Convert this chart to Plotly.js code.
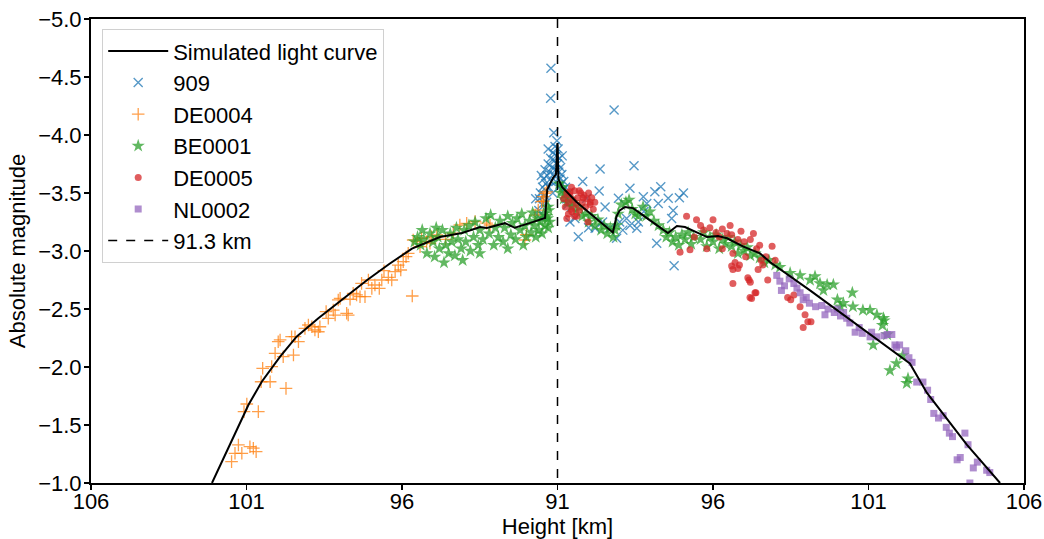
<!DOCTYPE html>
<html>
<head>
<meta charset="utf-8">
<script src="https://cdn.plot.ly/plotly-3.0.1.min.js"></script>
<style>html,body{margin:0;padding:0;background:#fff;}#chart{width:1044px;height:539px;}</style>
</head>
<body>
<div id="chart"></div>
<script>
// Axis: signed position along the trajectory (left branch = before peak, right = after)
const tickPositions = [-15, -10, -5, 0, 5, 10, 15];
const tickLabels = ['106', '101', '96', '91', '96', '101', '106'];
const peakPosition = [0, 0];
const peakSpan = [-5, -1];

// Simulated light curve
const simX = [-11.11,-10.6,-10.1,-9.94,-9.51,-8.92,-8.39,-7.69,-6.9,-6.12,-5.4,-4.68,-3.78,-3.07,-2.49,-2.27,-1.69,-1.37,-0.9,-0.40,-0.33,-0.14,-0.05,0.0,0.03,0.15,0.62,1.2,1.78,1.9,2.0,2.17,2.43,3.0,3.55,3.84,4.1,4.81,5.16,5.45,5.96,6.51,6.83,8.12,9.63,10.59,11.33,11.88,13.16,14.23];
const simY = [-1.0,-1.30,-1.58,-1.672,-1.873,-2.089,-2.261,-2.42,-2.59,-2.75,-2.89,-3.02,-3.12,-3.155,-3.207,-3.198,-3.24,-3.20,-3.24,-3.284,-3.53,-3.63,-3.66,-3.93,-3.62,-3.55,-3.42,-3.29,-3.16,-3.30,-3.35,-3.38,-3.37,-3.26,-3.155,-3.215,-3.207,-3.12,-3.13,-3.11,-3.04,-2.98,-2.905,-2.66,-2.36,-2.17,-2.03,-1.776,-1.33,-1.0];

// 909
const s909X = [-0.21,-0.22,1.82,1.37,2.46,0.81,1.34,1.96,2.33,2.76,3.13,3.32,3.56,3.92,3.24,2.87,3.72,3.67,3.19,3.75,0.67,1.90,1.53,1.21,1.69,2.22,2.55,2.33,0.94,0.56,2.78,4.05,0.4,1.0,1.45,2.0,2.1,2.6,
 -0.6,-0.58,-0.55,-0.5,-0.48,-0.45,-0.42,-0.4,-0.38,-0.35,-0.33,-0.3,-0.28,-0.25,-0.22,-0.2,-0.18,-0.15,-0.13,-0.1,-0.08,-0.06,-0.04,-0.02,0.0,0.02,0.04,0.06,0.08,0.1,0.12,0.14,0.17,0.2,0.23,0.26,0.3,0.33,-0.12,-0.3,-0.52,0.15,-0.62,-0.45,0.05,-0.15,-0.05,0.36,0.45,-0.7];
const s909Y = [-4.575,-4.316,-4.215,-3.707,-3.735,-3.60,-3.517,-3.455,-3.54,-3.468,-3.51,-3.554,-3.455,-3.46,-3.41,-3.41,-3.35,-3.28,-3.066,-2.873,-3.123,-3.11,-3.38,-3.196,-3.2,-3.28,-3.196,-3.22,-3.455,-3.28,-3.34,-3.5,-3.25,-3.2,-3.25,-3.25,-3.18,-3.25,
 -3.35,-3.45,-3.5,-3.4,-3.55,-3.62,-3.48,-3.7,-3.58,-3.42,-3.65,-3.75,-3.55,-3.68,-3.8,-3.6,-3.72,-3.85,-3.66,-3.78,-3.9,-3.7,-3.82,-3.95,-3.75,-3.88,-3.68,-3.8,-3.62,-3.72,-3.58,-3.66,-3.52,-3.6,-3.48,-3.55,-3.45,-3.4,-4.02,-3.88,-3.65,-3.82,-3.3,-3.3,-3.55,-3.5,-3.6,-3.5,-3.38,-3.45];

// DE0004
const de4X = [-10.48,-10.37,-10.26,-10.15,-9.89,-9.78,-9.69,-10.08,-9.99,-9.62,-9.53,-9.48,-9.24,-9.19,-9.08,-8.98,-8.92,-8.82,-8.73,-8.55,-8.49,-8.44,-8.33,-8.12,-8.01,-7.9,-7.80,-7.69,-7.64,-7.44,-7.37,-7.21,-7.15,-7.05,-6.99,-6.78,-6.73,-6.67,-6.57,-6.46,-6.35,-6.3,-6.19,-6.08,-5.97,-5.87,-5.73,-5.65,-5.58,-5.44,-5.33,-5.22,-5.12,-5.04,-4.96,-4.87,-4.8,-4.67,-4.64,-4.51,-4.37,-4.21,-4.05,-3.88,
 -4.42,-4.1,-3.6,-3.35,-3.14,-2.92,-2.65,-2.28,-2.17,-1.05,-1.0,-0.72,-0.62,-0.51,-0.40,-0.46,-0.35,-0.45];
const de4Y = [-1.184,-1.256,-1.328,-1.256,-1.313,-1.30,-1.27,-1.615,-1.681,-1.615,-1.873,-1.989,-1.873,-2.003,-2.118,-2.218,-2.233,-2.089,-1.816,-2.261,-2.103,-2.261,-2.218,-2.333,-2.362,-2.347,-2.319,-2.304,-2.347,-2.477,-2.42,-2.49,-2.448,-2.578,-2.592,-2.463,-2.448,-2.584,-2.635,-2.621,-2.606,-2.721,-2.606,-2.75,-2.678,-2.707,-2.678,-2.75,-2.83,-2.773,-2.75,-2.822,-2.879,-2.836,-2.908,-2.951,-2.98,-2.612,-3.095,-3.08,-3.11,-3.08,-3.123,-3.138,
 -3.037,-3.067,-3.1,-3.153,-3.224,-3.239,-3.253,-3.24,-3.224,-3.095,-3.14,-3.31,-3.353,-3.425,-3.497,-3.468,-3.51,-3.43];

// BE0001
const be1X = [-4.6,-4.5,-4.4,-4.3,-4.2,-4.1,-4.0,-3.95,-3.85,-3.8,-3.7,-3.65,-3.6,-3.5,-3.45,-3.4,-3.3,-3.25,-3.2,-3.1,-3.05,-3.0,-2.95,-2.85,-2.8,-2.7,-2.65,-2.55,-2.5,-2.4,-2.3,-2.2,-2.15,-2.05,-2.0,-1.9,-1.85,-1.75,-1.7,-1.6,-1.5,-1.45,-1.35,-1.3,-1.2,-1.15,-1.05,-1.0,-0.9,-0.85,-0.8,-0.75,-0.7,-0.65,-0.6,-0.55,-0.5,-0.45,-0.4,-0.35,-0.3,-0.3,-0.32,-0.28,-0.25,-1.1,-1.6,-2.5,-3.9,-4.35,
 0.05,0.1,0.15,0.2,0.25,0.3,0.4,0.45,0.5,0.6,0.7,0.8,0.9,1.0,1.1,1.2,1.3,1.4,1.5,1.6,1.7,1.8,1.85,1.9,1.95,2.05,2.2,2.3,2.4,2.5,2.6,2.75,2.85,2.97,3.1,3.25,3.4,3.5,3.6,3.7,3.8,3.9,4.0,4.1,4.2,4.3,4.37,4.6,4.7,4.8,4.9,5.0,5.1,5.2,5.3,5.4,5.5,5.6,5.7,5.8,5.9,6.0,6.1,6.2,6.35,6.5,6.65,6.8,7.0,
 7.15,7.48,7.8,8.12,8.28,8.44,8.55,8.67,8.87,9.0,9.1,9.19,9.48,9.5,9.82,10.05,10.27,10.48,10.45,10.15,10.6,10.69,10.9,11.23,11.27,10.5,11.1];
const be1Y = [-3.08,-3.12,-3.05,-3.1,-2.98,-3.15,-3.08,-2.95,-3.12,-3.02,-3.18,-2.9,-3.05,-2.98,-3.15,-3.08,-2.96,-3.2,-3.1,-3.02,-2.92,-3.18,-3.08,-3.22,-3.0,-3.12,-3.25,-3.05,-3.18,-3.1,-3.28,-3.15,-3.31,-3.05,-3.2,-3.12,-3.26,-3.08,-3.2,-3.3,-3.14,-3.24,-3.1,-3.28,-3.18,-3.32,-3.22,-3.12,-3.26,-3.16,-3.33,-3.22,-3.12,-3.28,-3.18,-3.25,-3.15,-3.32,-3.22,-3.3,-3.2,-3.38,-3.28,-3.35,-3.25,-3.05,-3.02,-2.98,-3.2,-3.18,
 -3.58,-3.5,-3.55,-3.45,-3.5,-3.42,-3.45,-3.38,-3.42,-3.35,-3.38,-3.3,-3.32,-3.25,-3.3,-3.22,-3.27,-3.18,-3.22,-3.15,-3.2,-3.12,-3.18,-3.22,-3.32,-3.4,-3.42,-3.44,-3.36,-3.32,-3.3,-3.38,-3.3,-3.34,-3.26,-3.22,-3.18,-3.12,-3.16,-3.08,-3.12,-3.05,-3.14,-3.1,-3.16,-3.06,-3.12,-3.1,-3.16,-3.04,-3.12,-3.08,-3.14,-3.02,-3.1,-3.06,-3.12,-3.04,-3.08,-2.98,-3.05,-3.0,-3.03,-2.96,-2.98,-2.94,-2.9,-2.92,-2.88,
 -2.86,-2.81,-2.79,-2.75,-2.78,-2.72,-2.66,-2.71,-2.71,-2.58,-2.52,-2.55,-2.64,-2.52,-2.49,-2.49,-2.45,-2.42,-2.36,-2.19,-2.28,-1.97,-2.03,-1.86,-1.9,-2.4,-2.1];

// DE0005
const de5X = [0.2,0.25,0.3,0.35,0.35,0.4,0.45,0.5,0.55,0.55,0.6,0.65,0.7,0.75,0.8,0.85,0.9,0.95,1.0,1.05,1.1,1.15,0.3,0.45,0.7,0.98,1.2,0.62,0.46,0.4,0.82,1.05,
 3.94,4.26,4.47,4.15,4.7,4.9,5.1,5.3,5.45,4.8,5.3,5.6,5.8,6.0,6.2,6.4,6.5,5.2,4.6,5.0,5.55,5.9,6.3,6.05,4.4,
 5.64,5.71,5.6,5.8,5.64,6.12,6.2,6.38,6.19,5.64,5.85,6.16,6.24,6.35,6.45,6.6,6.76,6.9,7.4,7.5,7.6,7.8,7.96,8.05,8.15,7.9,6.7,6.55,7.0];
const de5Y = [-3.45,-3.38,-3.5,-3.42,-3.32,-3.48,-3.36,-3.44,-3.3,-3.52,-3.4,-3.46,-3.35,-3.5,-3.42,-3.48,-3.38,-3.45,-3.5,-3.4,-3.46,-3.36,-3.28,-3.55,-3.52,-3.25,-3.42,-3.3,-3.34,-3.51,-3.46,-3.42,
 -2.99,-3.01,-3.27,-3.3,-3.18,-3.2,-3.16,-3.19,-3.15,-3.02,-3.02,-3.14,-3.1,-3.08,-3.1,-3.02,-3.05,-3.12,-3.22,-3.27,-3.22,-3.17,-3.15,-2.95,-3.12,
 -2.98,-2.9,-2.87,-2.85,-2.72,-2.77,-2.73,-2.64,-2.6,-2.84,-2.88,-2.75,-2.59,-2.64,-2.84,-2.88,-2.75,-3.04,-2.6,-2.58,-2.62,-2.52,-2.45,-2.39,-2.39,-2.34,-2.95,-2.92,-2.92];

// NL0002
const nl2X = [7.05,7.15,7.3,7.45,7.6,7.7,7.8,7.9,8.1,8.3,8.5,8.7,8.9,9.1,9.3,9.57,9.8,10.05,10.27,10.5,10.75,10.6,10.85,11.0,10.9,11.2,11.3,11.4,11.55,11.75,11.9,12.0,12.1,12.25,12.4,12.5,12.6,12.7,13.1,12.85,12.95,13.2,13.37,13.5,13.8,13.9,13.26,7.2,8.0,8.6,9.0,9.4,9.7,10.1,9.2];
const nl2Y = [-2.79,-2.74,-2.7,-2.76,-2.72,-2.68,-2.64,-2.58,-2.55,-2.52,-2.53,-2.5,-2.47,-2.44,-2.42,-2.3,-2.29,-2.26,-2.26,-2.27,-2.28,-2.28,-2.19,-2.19,-2.17,-2.14,-2.08,-2.04,-1.87,-1.87,-1.8,-1.72,-1.6,-1.56,-1.58,-1.48,-1.43,-1.4,-1.43,-1.2,-1.22,-1.33,-1.13,-1.18,-1.11,-1.09,-1.0,-2.66,-2.6,-2.45,-2.5,-2.38,-2.34,-2.3,-2.47];

const FONT = 'Liberation Sans, Arial, sans-serif';
const FS = 22;
const OP = 0.75;

const traces = [
  {x: s909X, y: s909Y, mode: 'markers', name: '909', legendrank: 2,
   marker: {symbol: 'x-thin-open', size: 9, color: '#1f77b4', opacity: OP, line: {color: '#1f77b4', width: 1.4}}},
  {x: de4X, y: de4Y, mode: 'markers', name: 'DE0004', legendrank: 3,
   marker: {symbol: 'cross-thin-open', size: 9, color: '#ff7f0e', opacity: OP, line: {color: '#ff7f0e', width: 1.3}}},
  {x: be1X, y: be1Y, mode: 'markers', name: 'BE0001', legendrank: 4,
   marker: {symbol: 'star', size: 10, color: '#2ca02c', opacity: OP, line: {width: 0}}},
  {x: de5X, y: de5Y, mode: 'markers', name: 'DE0005', legendrank: 5,
   marker: {symbol: 'circle', size: 7, color: '#d62728', opacity: OP, line: {width: 0}}},
  {x: nl2X, y: nl2Y, mode: 'markers', name: 'NL0002', legendrank: 6,
   marker: {symbol: 'square', size: 7, color: '#9467bd', opacity: OP, line: {width: 0}}},
  {x: simX, y: simY, mode: 'lines', name: 'Simulated light curve', legendrank: 1,
   line: {color: '#000', width: 2}},
  {x: peakPosition, y: peakSpan, mode: 'lines', name: '91.3 km', legendrank: 7,
   line: {color: '#000', width: 1.5, dash: 'dash'}}
];

const layout = {
  width: 1044, height: 539,
  margin: {l: 91, r: 20, t: 19, b: 56},
  paper_bgcolor: '#fff', plot_bgcolor: '#fff',
  font: {family: FONT, size: FS, color: '#000'},
  showlegend: true,
  legend: {x: 0.012, y: 0.978, xanchor: 'left', yanchor: 'top',
    bgcolor: 'rgba(255,255,255,0.85)', bordercolor: '#d0d0d0', borderwidth: 1,
    font: {family: FONT, size: FS, color: '#000'}, itemwidth: 60},
  xaxis: {range: [-15, 15], tickmode: 'array', tickvals: tickPositions, ticktext: tickLabels,
    showgrid: false, zeroline: false, showline: true, mirror: true, linewidth: 2, linecolor: '#000',
    ticks: 'outside', ticklen: 5, tickwidth: 1.5, tickcolor: '#000', ticklabelstandoff: -7,
    tickfont: {family: FONT, size: FS}, title: {text: 'Height [km]', font: {family: FONT, size: FS}, standoff: 2}},
  yaxis: {range: [-1, -5], dtick: 0.5, tick0: -5, tickformat: '.1f',
    showgrid: false, zeroline: false, showline: true, mirror: true, linewidth: 2, linecolor: '#000',
    ticks: 'outside', ticklen: 5, tickwidth: 1.5, tickcolor: '#000', ticklabelstandoff: -2,
    tickfont: {family: FONT, size: FS}, title: {text: 'Absolute magnitude', font: {family: FONT, size: FS}, standoff: 6}}
};

Plotly.newPlot('chart', traces, layout, {staticPlot: true, displayModeBar: false});
</script>
</body>
</html>
